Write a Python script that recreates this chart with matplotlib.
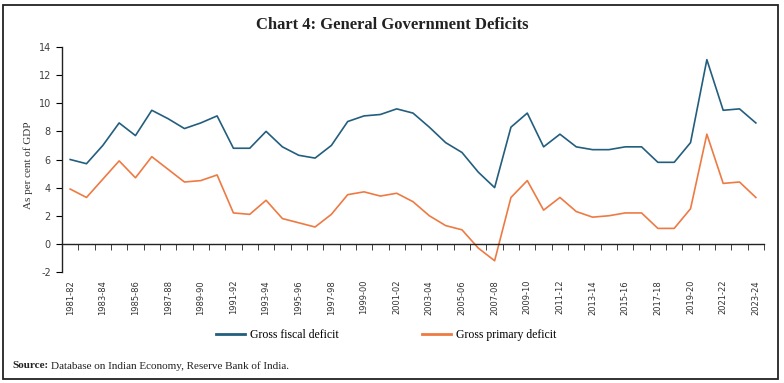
"""
Chart 4: General Government Deficits (per cent of GDP), 1981-82 to 2023-24.
"""

import numpy as np
import matplotlib
matplotlib.use("Agg")
import matplotlib.pyplot as plt
from matplotlib.lines import Line2D
from matplotlib.patches import Rectangle

plt.rcParams["axes.unicode_minus"] = False

years = [f"{y}-{str(y + 1)[-2:]}" for y in range(1981, 2024)]

gross_fiscal_deficit = [
    6.0, 5.7, 7.0, 8.6, 7.7, 9.5, 8.9, 8.2, 8.6, 9.1,
    6.8, 6.8, 8.0, 6.9, 6.3, 6.1, 7.0, 8.7, 9.1, 9.2,
    9.6, 9.3, 8.3, 7.2, 6.5, 5.1, 4.0, 8.3, 9.3, 6.9,
    7.8, 6.9, 6.7, 6.7, 6.9, 6.9, 5.8, 5.8, 7.2, 13.1,
    9.5, 9.6, 8.6,
]
gross_primary_deficit = [
    3.9, 3.3, 4.6, 5.9, 4.7, 6.2, 5.3, 4.4, 4.5, 4.9,
    2.2, 2.1, 3.1, 1.8, 1.5, 1.2, 2.1, 3.5, 3.7, 3.4,
    3.6, 3.0, 2.0, 1.3, 1.0, -0.3, -1.2, 3.3, 4.5, 2.4,
    3.3, 2.3, 1.9, 2.0, 2.2, 2.2, 1.1, 1.1, 2.5, 7.8,
    4.3, 4.4, 3.3,
]

BLUE = "#235e7e"
ORANGE = "#ee7a43"
SERIF = "Liberation Serif"

fig = plt.figure(figsize=(7.84, 3.83), dpi=100)
ax = fig.add_axes([62 / 784, 1 - 272 / 383, (764 - 62) / 784, (272 - 47) / 383])

x = np.arange(len(years))
ax.plot(x, gross_fiscal_deficit, color=BLUE, lw=1.2)
ax.plot(x, gross_primary_deficit, color=ORANGE, lw=1.2)

ax.set_xlim(-0.5, len(years) - 0.5)
ax.set_ylim(-2, 14)
ax.set_yticks(range(-2, 15, 2))

for side in ("top", "right"):
    ax.spines[side].set_visible(False)
ax.spines["bottom"].set_position(("data", 0))
for side in ("left", "bottom"):
    ax.spines[side].set_color("#222222")
    ax.spines[side].set_linewidth(1.0)

ax.set_xticks(x[::2])
ax.set_xticklabels(years[::2], rotation=90, fontsize=6, color="#333333")
ax.tick_params(axis="x", which="major", length=0, pad=26)
ax.set_xticks(np.arange(0.5, len(years) - 0.4, 1), minor=True)
ax.tick_params(axis="x", which="minor", length=4, direction="out", color="#222222")
ax.tick_params(axis="y", length=4, direction="out", labelsize=7, labelcolor="#404040", pad=4)

fig.text(28 / 784, 1 - 165 / 383, "As per cent of GDP", rotation=90, ha="center", va="center",
         family=SERIF, fontsize=8, color="#333333")

fig.text(392 / 784, 1 - 25 / 383, "Chart 4: General Government Deficits", ha="center", va="center",
         family=SERIF, fontsize=12, fontweight="bold", color="#222222")

handles = [Line2D([], [], color=BLUE, lw=2), Line2D([], [], color=ORANGE, lw=2)]
fig.legend(handles, ["Gross fiscal deficit", "Gross primary deficit"], loc="center",
           bbox_to_anchor=(386 / 784, 1 - 335 / 383), ncol=2, frameon=False,
           prop={"family": SERIF, "size": 8.5}, handlelength=2.5, handletextpad=0.4,
           columnspacing=7.0)

# bold "Source:" then the rest, placed right after it
src = fig.text(12 / 784, 1 - 366 / 383, "Source:", ha="left", va="center",
               family=SERIF, fontsize=8, fontweight="bold", color="#222222")
fig.canvas.draw()
bb = src.get_window_extent()
fig.text((bb.x1 + 3) / 784, 1 - 366 / 383, "Database on Indian Economy, Reserve Bank of India.",
         ha="left", va="center", family=SERIF, fontsize=8, color="#222222")

fig.patches.append(Rectangle((3 / 784, 1 - 379 / 383), 775 / 784, 374 / 383, transform=fig.transFigure,
                             fill=False, lw=1.3, edgecolor="#222222"))

fig.savefig("out.png", dpi=100)
